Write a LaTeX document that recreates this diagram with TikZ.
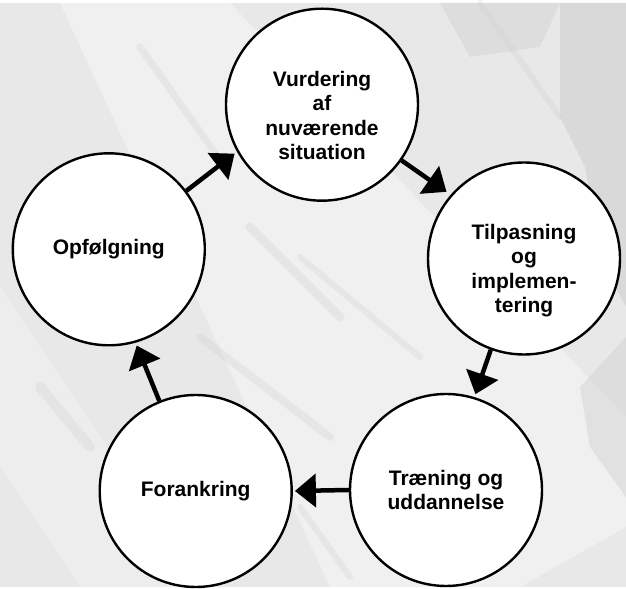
\documentclass[tikz,border=0pt]{standalone}
\usepackage{fontspec}
\setmainfont{Liberation Sans}
\usetikzlibrary{arrows.meta}
\definecolor{bgbase}{RGB}{232,232,232}
\definecolor{bgdark}{RGB}{208,208,208}
\definecolor{bglight}{RGB}{246,246,246}
\begin{document}
\begin{tikzpicture}[x=1pt,y=1pt,
  stage/.style={circle, draw=black, line width=2.4pt, fill=white, minimum size=192pt, inner sep=0pt},
  txt/.style={font=\bfseries\fontsize{21}{24.5}\selectfont, align=center, text=black},
  flow/.style={line width=4.5pt, -{Triangle[length=21pt,width=33pt]}, shorten >=3pt},
  streak/.style={line cap=round, opacity=0.3}
]
% background texture (approximation)
\fill[bgbase] (0,0) rectangle (626,584);
\fill[bglight, opacity=0.6] (60,584) -- (230,584) -- (626,170) -- (626,60) -- (520,0) -- (330,0) -- cycle;
\fill[bglight, opacity=0.4] (0,300) -- (0,120) -- (80,0) -- (200,0) -- cycle;
\fill[bgdark, opacity=0.6] (560,584) -- (626,584) -- (626,280) -- (600,330) -- (585,420) -- (560,470) -- cycle;
\fill[bgdark, opacity=0.45] (440,584) -- (560,584) -- (540,540) -- (470,530) -- cycle;
\fill[bgdark, opacity=0.45] (626,250) -- (626,90) -- (590,140) -- (580,200) -- cycle;
\draw[streak, bgdark, line width=7pt] (140,540) -- (225,420);
\draw[streak, bgdark, line width=9pt] (250,360) -- (340,270);
\draw[streak, bgdark, line width=6pt] (300,330) -- (420,230);
\draw[streak, bgdark, line width=8pt] (200,250) -- (330,150);
\draw[streak, bgdark, line width=6pt] (480,584) -- (560,470);
\draw[streak, bgdark, line width=10pt] (40,200) -- (90,140);
\draw[streak, bgdark, line width=6pt] (300,80) -- (350,10);
% stages
\node[stage, label={[txt, yshift=-11pt]center:{Vurdering\\af\\nuværende\\situation}}] (vur) at (322,482.3) {};
\node[stage, label={[txt, yshift=-12pt]center:{Tilpasning\\og\\implemen-\\tering}}] (til) at (524,328.5) {};
\node[stage, txt] (trae) at (446,97) {Træning og\\uddannelse};
\node[stage, txt] (fora) at (195.7,96) {Forankring};
\node[stage, txt] (opf) at (108.8,337.7) {Opfølgning};
% connectors
\draw[flow] (opf.37) -- (vur.209);
\draw[flow, shorten >=5pt] (vur.325) -- (til.139);
\draw[flow] (til.250) -- (trae.73);
\draw[flow, shorten >=2pt] (trae.180) -- (fora.0);
\draw[flow] (fora.112) -- (opf.286);
\end{tikzpicture}
\end{document}
